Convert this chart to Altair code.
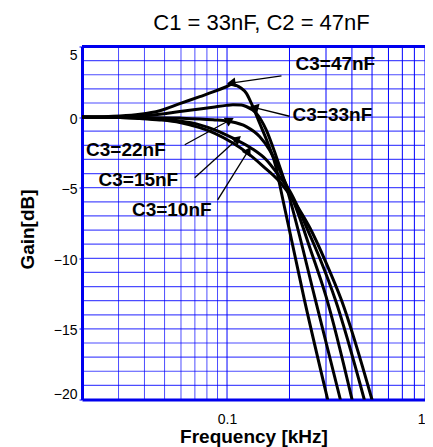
import altair as alt
import pandas as pd

title_text = "C1 = 33nF, C2 = 47nF"
x_title = "Frequency [kHz]"
y_title = "Gain[dB]"

f_min, f_max = 0.02, 0.9
g_min, g_max = -20, 5

# --- curves (frequency in kHz, gain in dB) ---
c47_f = [0.020, 0.0305, 0.038, 0.0474, 0.0592, 0.0739, 0.0856, 0.0992, 0.105, 0.1172, 0.1238, 0.1309, 0.1435, 0.1573, 0.1726, 0.179, 0.2361, 0.3056]
c47_g = [0.0, 0.08, 0.2, 0.45, 0.95, 1.45, 1.78, 2.15, 2.3, 2.05, 1.70, 0.99, -0.42, -1.84, -3.6, -4.7, -12.94, -20.0]

c33_f = [0.020, 0.0305, 0.038, 0.0474, 0.0592, 0.0739, 0.0856, 0.0992, 0.1068, 0.1172, 0.1238, 0.1383, 0.1545, 0.1726, 0.1928, 0.2667, 0.3517]
c33_g = [0.0, 0.03, 0.08, 0.2, 0.40, 0.57, 0.70, 0.83, 0.87, 0.85, 0.75, 0.28, -0.90, -2.79, -4.91, -12.94, -20.0]

c22_f = [0.020, 0.038, 0.0592, 0.0856, 0.1029, 0.1238, 0.1435, 0.1603, 0.179, 0.2, 0.22, 0.25, 0.3, 0.4004]
c22_g = [0.0, -0.02, -0.07, -0.19, -0.31, -0.67, -1.37, -2.32, -3.73, -5.3, -6.8, -9.2, -12.7, -20.0]

c15_f = [0.020, 0.0305, 0.038, 0.0474, 0.0592, 0.0739, 0.0873, 0.1068, 0.1309, 0.1545, 0.179, 0.2, 0.25, 0.28, 0.3328, 0.4587]
c15_g = [0.0, -0.02, -0.08, -0.15, -0.28, -0.55, -0.9, -1.49, -2.20, -3.02, -4.21, -5.2, -8.3, -10.0, -12.94, -20.0]

c10_f = [0.020, 0.0305, 0.038, 0.0474, 0.0592, 0.0739, 0.0873, 0.1057, 0.1257, 0.1498, 0.179, 0.1928, 0.22, 0.25, 0.3, 0.3556, 0.4995]
c10_g = [-0.01, -0.03, -0.1, -0.2, -0.38, -0.75, -1.15, -1.8, -2.55, -3.50, -4.56, -5.15, -6.4, -7.8, -10.3, -12.94, -20.0]

series_names = ["C3=47nF", "C3=33nF", "C3=22nF", "C3=15nF", "C3=10nF"]
series_f = [c47_f, c33_f, c22_f, c15_f, c10_f]
series_g = [c47_g, c33_g, c22_g, c15_g, c10_g]

# --- grid / ticks ---
grid_f = [0.03, 0.04, 0.05, 0.06, 0.07, 0.08, 0.09, 0.1, 0.2, 0.3, 0.4, 0.5, 0.6, 0.7, 0.8, 0.9]
grid_g = list(range(-19, 5))
y_ticks = [5, 0, -5, -10, -15, -20]
x_ticks = [0.1, f_max]
x_tick_labels = ["0.1", "1"]

# --- annotations (data units) ---
label_f = [0.3328, 0.3220, 0.03256, 0.03738, 0.05416]
label_g = [3.74, 0.16, -2.35, -4.48, -6.57]
arrow_tail_f = [0.1830, 0.2, 0.06254, 0.06987, 0.09013]
arrow_tail_g = [2.92, 0.06, -1.96, -4.30, -5.86]
arrow_tip_f = [0.1064, 0.1373, 0.1018, 0.1112, 0.1257]
arrow_tip_g = [2.43, 0.66, -0.26, -1.61, -2.46]
arrow_angle = [262, 284, 61, 48, 32]

BLUE = "#0000ee"
FONT = "Liberation Sans"

rows = []
for name, fs, gs in zip(series_names, series_f, series_g):
    for i, (f, g) in enumerate(zip(fs, gs)):
        rows.append({"series": name, "f": f, "g": g, "i": i})
curves_df = pd.DataFrame(rows)

vgrid_df = pd.DataFrame({"f": grid_f})
hgrid_df = pd.DataFrame({"g": grid_g})
top_df = pd.DataFrame({"g": [g_max]})
labels_df = pd.DataFrame({"f": label_f, "g": label_g, "text": series_names})
arrows_df = pd.DataFrame({"f": arrow_tail_f, "g": arrow_tail_g, "f2": arrow_tip_f, "g2": arrow_tip_g, "angle": arrow_angle})

xs = alt.Scale(type="log", domain=[f_min, f_max], nice=False)
ys = alt.Scale(domain=[g_min, g_max], nice=False, zero=False)

x_axis = alt.Axis(
    values=x_ticks,
    labelExpr=f"datum.value < 0.5 ? '{x_tick_labels[0]}' : '{x_tick_labels[1]}'",
    grid=False, ticks=False,
    domainColor=BLUE, domainWidth=3,
    labelFont=FONT, labelFontSize=14, labelColor="#000", labelPadding=13, labelFlush=True,
    title=x_title, titleFont=FONT, titleFontSize=19, titleFontWeight="bold", titleColor="#000",
    titlePadding=1,
)
y_axis = alt.Axis(
    values=y_ticks,
    grid=False, tickColor=BLUE, tickSize=3, tickWidth=1,
    domainColor=BLUE, domainWidth=3,
    labelFont=FONT, labelFontSize=14, labelColor="#000", labelPadding=2, labelFlush=True, labelOffset=2,
    title=y_title, titleFont=FONT, titleFontSize=19, titleFontWeight="bold", titleColor="#000",
    titleX=-55, titleY=182.5, titleAlign="center", titleBaseline="middle", titleAngle=270,
)

X = lambda field: alt.X(field, scale=xs, axis=x_axis)
Y = lambda field: alt.Y(field, scale=ys, axis=y_axis)

vgrid = alt.Chart(vgrid_df).mark_rule(color="#0000ff", strokeWidth=1).encode(
    x=X("f:Q"),
    opacity=alt.condition(alt.datum.f < 0.099, alt.value(0.7), alt.value(1.0)),
)
hgrid = alt.Chart(hgrid_df).mark_rule(color="#0000ff", strokeWidth=1.2, opacity=0.7).encode(
    y=Y("g:Q"),
)
curves = alt.Chart(curves_df).mark_line(
    color="black", strokeWidth=3, interpolate="monotone", clip=True, strokeCap="round"
).encode(
    x=X("f:Q"),
    y=Y("g:Q"),
    detail="series:N",
    order="i:Q",
)
top_border = alt.Chart(top_df).mark_rule(color=BLUE, strokeWidth=3).encode(
    y=Y("g:Q"),
)
arrow_lines = alt.Chart(arrows_df).mark_rule(color="black", strokeWidth=1.3).encode(
    x=X("f:Q"), y=Y("g:Q"),
    x2="f2:Q", y2="g2:Q",
)
arrow_heads = alt.Chart(arrows_df).mark_point(shape="triangle", filled=True, color="black", size=100, opacity=1).encode(
    x=X("f2:Q"), y=Y("g2:Q"),
    angle=alt.Angle("angle:Q", scale=None),
)
labels = alt.Chart(labels_df).mark_text(
    font=FONT, fontSize=19, fontWeight="bold", color="black", align="center", baseline="middle"
).encode(
    x=X("f:Q"), y=Y("g:Q"), text="text:N",
)

chart = alt.layer(vgrid, hgrid, curves, top_border, arrow_lines, arrow_heads, labels).properties(
    width=343, height=353,
    padding={"left": 74, "top": 38.5, "right": 0, "bottom": 47},
    autosize=alt.AutoSizeParams(type="none"),
    title=alt.TitleParams(text=title_text, font=FONT, fontSize=22, fontWeight="normal", color="#000",
                          anchor="middle", baseline="alphabetic", offset=-7, dx=8),
).configure_view(stroke=None).configure(background="white")

chart.save("out.html", embed_options={"renderer": "svg", "actions": False})
